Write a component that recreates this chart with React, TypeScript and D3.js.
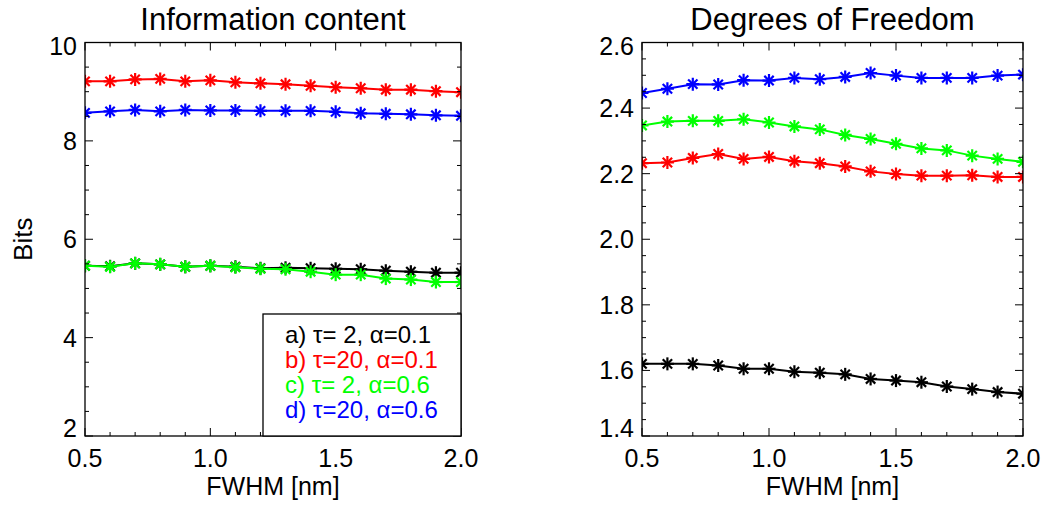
import React from "react";
import * as d3 from "d3";

const fwhm = [0.5, 0.6, 0.7, 0.8, 0.9, 1.0, 1.1, 1.2, 1.3, 1.4, 1.5, 1.6, 1.7, 1.8, 1.9, 2.0];

// Information content (Bits)
const icA = [5.46, 5.45, 5.51, 5.49, 5.44, 5.46, 5.44, 5.41, 5.42, 5.41, 5.40, 5.39, 5.36, 5.34, 5.32, 5.32];
const icB = [9.21, 9.21, 9.25, 9.26, 9.21, 9.23, 9.19, 9.17, 9.15, 9.12, 9.09, 9.07, 9.04, 9.04, 9.01, 8.99];
const icC = [5.46, 5.44, 5.51, 5.49, 5.44, 5.46, 5.43, 5.40, 5.39, 5.34, 5.28, 5.28, 5.20, 5.18, 5.13, 5.13];
const icD = [8.57, 8.60, 8.63, 8.60, 8.63, 8.62, 8.62, 8.61, 8.61, 8.61, 8.59, 8.56, 8.55, 8.54, 8.52, 8.51];

// Degrees of freedom
const dfA = [1.620, 1.620, 1.620, 1.615, 1.605, 1.605, 1.596, 1.593, 1.588, 1.574, 1.569, 1.564, 1.551, 1.543, 1.534, 1.529];
const dfB = [2.232, 2.234, 2.248, 2.260, 2.245, 2.251, 2.238, 2.232, 2.222, 2.207, 2.199, 2.194, 2.194, 2.195, 2.190, 2.190];
const dfC = [2.347, 2.359, 2.361, 2.361, 2.366, 2.356, 2.344, 2.335, 2.318, 2.306, 2.291, 2.277, 2.271, 2.255, 2.245, 2.236];
const dfD = [2.446, 2.459, 2.473, 2.472, 2.485, 2.484, 2.492, 2.488, 2.495, 2.507, 2.499, 2.492, 2.492, 2.492, 2.499, 2.502];

const seriesColors = ["#000000", "#ff0000", "#00ff00", "#0000ff"];
const legendLabels = [
  "a) \u03c4= 2, \u03b1=0.1",
  "b) \u03c4=20, \u03b1=0.1",
  "c) \u03c4= 2, \u03b1=0.6",
  "d) \u03c4=20, \u03b1=0.6",
];

const xMajor = [0.5, 1.0, 1.5, 2.0];
const icMajor = [2, 4, 6, 8, 10];
const dfMajor = [1.4, 1.6, 1.8, 2.0, 2.2, 2.4, 2.6];

const FONT = "'Liberation Sans', Arial, Helvetica, sans-serif";

type PanelProps = {
  id: string;
  x0: number;
  x1: number;
  y0: number;
  y1: number;
  yDomain: [number, number];
  yMajor: number[];
  yMinorStep: number;
  yFmt: (v: number) => string;
  title: string;
  ylabel?: string;
  series: number[][];
  legend?: boolean;
};

function Star({ cx, cy, color }: { cx: number; cy: number; color: string }) {
  const r = 6.5;
  const d = r * 0.72;
  return (
    <g stroke={color} strokeWidth={2.2} strokeLinecap="butt">
      <line x1={cx} y1={cy - r} x2={cx} y2={cy + r} />
      <line x1={cx - r} y1={cy} x2={cx + r} y2={cy} />
      <line x1={cx - d} y1={cy - d} x2={cx + d} y2={cy + d} />
      <line x1={cx - d} y1={cy + d} x2={cx + d} y2={cy - d} />
    </g>
  );
}

function Panel(p: PanelProps) {
  const x = d3.scaleLinear().domain([0.5, 2.0]).range([p.x0, p.x1]);
  const y = d3.scaleLinear().domain(p.yDomain).range([p.y1, p.y0]);
  const xMinor = d3.range(0.5, 2.0001, 0.1);
  const nMinor = Math.round((p.yDomain[1] - p.yDomain[0]) / p.yMinorStep);
  const yMinor = d3.range(0, nMinor + 1).map((i) => p.yDomain[0] + i * p.yMinorStep);
  const line = d3
    .line<number>()
    .x((_, i) => x(fwhm[i]))
    .y((v) => y(v));
  const isMajorX = (v: number) => xMajor.some((m) => Math.abs(m - v) < 1e-6);
  const isMajorY = (v: number) => p.yMajor.some((m) => Math.abs(m - v) < 1e-6);
  const cx = (p.x0 + p.x1) / 2;
  const cy = (p.y0 + p.y1) / 2;
  const labelY = (v: number) => Math.min(Math.max(y(v) + 9, p.y0 + 12), p.y1 + 1);
  return (
    <g>
      <defs>
        <clipPath id={p.id}>
          <rect x={p.x0} y={p.y0} width={p.x1 - p.x0} height={p.y1 - p.y0} />
        </clipPath>
      </defs>
      <g clipPath={`url(#${p.id})`}>
        {p.series.map((s, si) => (
          <g key={si}>
            <path d={line(s) || ""} fill="none" stroke={seriesColors[si]} strokeWidth={2} />
            {s.map((v, i) => (
              <Star key={i} cx={x(fwhm[i])} cy={y(v)} color={seriesColors[si]} />
            ))}
          </g>
        ))}
      </g>
      {xMinor.map((v, i) => {
        const len = isMajorX(v) ? 8 : 4;
        const xx = x(v);
        return (
          <g key={"xt" + i} stroke="#000" strokeWidth={1}>
            <line x1={xx} x2={xx} y1={p.y1} y2={p.y1 - len} />
            <line x1={xx} x2={xx} y1={p.y0} y2={p.y0 + len} />
          </g>
        );
      })}
      {yMinor.map((v, i) => {
        const len = isMajorY(v) ? 8 : 4;
        const yy = y(v);
        return (
          <g key={"yt" + i} stroke="#000" strokeWidth={1}>
            <line x1={p.x0} x2={p.x0 + len} y1={yy} y2={yy} />
            <line x1={p.x1} x2={p.x1 - len} y1={yy} y2={yy} />
          </g>
        );
      })}
      <rect x={p.x0} y={p.y0} width={p.x1 - p.x0} height={p.y1 - p.y0} fill="none" stroke="#000" strokeWidth={1.3} />
      {xMajor.map((v, i) => (
        <text key={"xl" + i} x={x(v)} y={p.y1 + 31} textAnchor="middle" fontSize={25} fontFamily={FONT} fill="#000">
          {v.toFixed(1)}
        </text>
      ))}
      {p.yMajor.map((v, i) => (
        <text key={"yl" + i} x={p.x0 - 8} y={labelY(v)} textAnchor="end" fontSize={25} fontFamily={FONT} fill="#000">
          {p.yFmt(v)}
        </text>
      ))}
      <text x={cx} y={p.y1 + 59} textAnchor="middle" fontSize={25} fontFamily={FONT} fill="#000">
        FWHM [nm]
      </text>
      <text x={cx} y={30} textAnchor="middle" fontSize={31} fontFamily={FONT} fill="#000">
        {p.title}
      </text>
      {p.ylabel && (
        <text transform={`translate(32,${cy}) rotate(-90)`} textAnchor="middle" fontSize={26} fontFamily={FONT} fill="#000">
          {p.ylabel}
        </text>
      )}
      {p.legend && (
        <g>
          <rect x={263} y={314} width={p.x1 - 263} height={p.y1 - 314} fill="#fff" stroke="#000" strokeWidth={1.3} />
          {legendLabels.map((t, i) => (
            <text key={"lg" + i} x={285} y={343 + i * 25} fontSize={24} fontFamily={FONT} fill={seriesColors[i]}>
              {t}
            </text>
          ))}
        </g>
      )}
    </g>
  );
}

export default function App() {
  return (
    <svg width={1051} height={505} style={{ position: "absolute", left: 0, top: 0, background: "#fff" }}>
      <rect width={1051} height={505} fill="#fff" />
      <Panel
        id="clipL"
        x0={85}
        x1={461}
        y0={42.5}
        y1={436}
        yDomain={[2, 10]}
        yMajor={icMajor}
        yMinorStep={0.5}
        yFmt={(v) => String(v)}
        title="Information content"
        ylabel="Bits"
        series={[icA, icB, icC, icD]}
        legend
      />
      <Panel
        id="clipR"
        x0={642}
        x1={1023}
        y0={42.5}
        y1={436}
        yDomain={[1.4, 2.6]}
        yMajor={dfMajor}
        yMinorStep={0.05}
        yFmt={(v) => v.toFixed(1)}
        title="Degrees of Freedom"
        series={[dfA, dfB, dfC, dfD]}
      />
    </svg>
  );
}
